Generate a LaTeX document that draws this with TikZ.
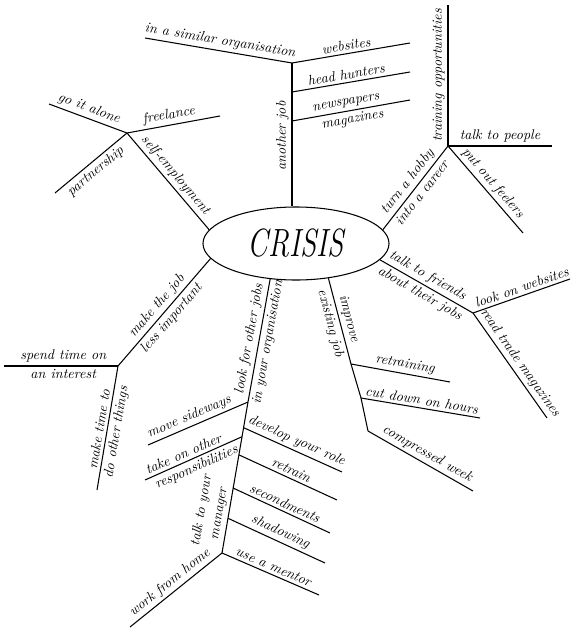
\documentclass[tikz,border=0pt]{standalone}
\usepackage{tikz}
\usetikzlibrary{shapes.geometric, calc}

\begin{document}
\begin{tikzpicture}[
  x=0.025cm, y=-0.025cm,
  line width=0.75pt,
  hub/.style={ellipse, draw, minimum width=4.65cm, minimum height=1.825cm,
              inner sep=0pt, font=\fontsize{28}{30}\selectfont\itshape},
  lbl/.style={font=\fontsize{10}{12.5}\selectfont\itshape, sloped, inner sep=2pt},
]
  \useasboundingbox (0,0) rectangle (580,632);

  \node[hub] (crisis) at (296,243.5) {\scalebox{0.75}[1]{CRISIS}};

  % another job
  \coordinate (aj)  at (292,63);
  \coordinate (sim) at (145,38);
  \coordinate (web) at (410,43);
  \coordinate (hh0) at (292,92);
  \coordinate (hh)  at (410,72);
  \coordinate (np0) at (292,121);
  \coordinate (np)  at (410,100);

  \draw (crisis.north -| aj) -- node[lbl, above, pos=0.49]{another job} (aj);
  \draw (sim) -- node[lbl, above]{in a similar organisation} (aj);
  \draw (aj) -- node[lbl, above, pos=0.47]{websites} (web);
  \draw (hh0) -- node[lbl, above, pos=0.47]{head hunters} (hh);
  \draw (np0) -- node[lbl, above, pos=0.47]{newspapers}
    node[lbl, below, pos=0.5]{magazines} (np);

  % self-employment
  \coordinate (se)    at (127,133);
  \coordinate (alone) at (49,104);
  \coordinate (free)  at (220,116);
  \coordinate (part)  at (55,193);

  \draw (se) -- node[lbl, above]{self-employment} (crisis.171);
  \draw (alone) -- node[lbl, above, pos=0.47]{go it alone} (se);
  \draw (se) -- node[lbl, above, pos=0.47]{freelance} (free);
  \draw (part) -- node[lbl, below, pos=0.48]{partnership} (se);

  % hobby
  \coordinate (hob)    at (448,146);
  \coordinate (train)  at (448,5);
  \coordinate (people) at (552,146);
  \coordinate (feel)   at (523,233);

  \draw (crisis.9) -- node[lbl, above]{turn a hobby}
    node[lbl, below]{into a career} (hob);
  \draw (hob) -- node[lbl, above]{training opportunities} (train);
  \draw (hob) -- node[lbl, above]{talk to people} (people);
  \draw (hob) -- node[lbl, above]{put out feelers} (feel);

  % friends
  \coordinate (fr)    at (473,313);
  \coordinate (lweb)  at (570,279);
  \coordinate (trade) at (547,418);

  \draw (crisis.349) -- node[lbl, above, pos=0.46]{talk to friends}
    node[lbl, below, pos=0.48]{about their jobs} (fr);
  \draw (fr) -- node[lbl, above, pos=0.53]{look on websites} (lweb);
  \draw (fr) -- node[lbl, above, pos=0.53]{read trade magazines} (trade);

  % existing job
  \coordinate (imp1)  at (351,364);
  \coordinate (imp2)  at (361,398);
  \coordinate (imp3)  at (368,431);
  \coordinate (retr)  at (450,382);
  \coordinate (hours) at (480,418);
  \coordinate (week)  at (473,491);

  \draw (crisis.313) -- node[lbl, above]{improve}
    node[lbl, below]{existing job} (imp1) -- (imp2) -- (imp3);
  \draw (imp1) -- node[lbl, above, pos=0.53]{retraining} (retr);
  \draw (imp2) -- node[lbl, above]{cut down on hours} (hours);
  \draw (imp3) -- node[lbl, above, pos=0.52]{compressed week} (week);

  % other jobs in the organisation
  \coordinate (lf1)  at (248,402);
  \coordinate (lf2)  at (222,553);
  \coordinate (side) at (148,445);
  \coordinate (resp) at (145,480);
  \coordinate (home) at (130,627);
  \coordinate (tk0)  at ($(lf1)!0.23!(lf2)$);
  \coordinate (dev)  at (342,472);
  \coordinate (rtn)  at (337,500);
  \coordinate (sec)  at (330,533);
  \coordinate (shad) at (325,563);
  \coordinate (ment) at (319,595);

  \draw (lf2) -- node[lbl, above, align=center, pos=0.25]{talk to your\\manager} (lf1)
    -- node[lbl, above]{look for other jobs}
       node[lbl, below]{in your organisation} (crisis.234);
  \draw (side) -- node[lbl, above, pos=0.45]{move sideways} (lf1);
  \draw (resp) -- node[lbl, above, pos=0.43]{take on other}
    node[lbl, below, pos=0.49]{responsibilities} (tk0);
  \draw (home) -- node[lbl, above]{work from home} (lf2);

  \foreach \t/\tip/\txt in {0.17/dev/develop your role, 0.35/rtn/retrain,
      0.57/sec/secondments, 0.77/shad/shadowing, 1/ment/use a mentor}
    \draw ($(lf1)!\t!(lf2)$) -- node[lbl, above]{\txt} (\tip);

  % less important job
  \coordinate (mj)    at (118,366);
  \coordinate (spend) at (4,366);
  \coordinate (mt)    at (97,490);

  \draw (mj) -- node[lbl, above]{make the job}
    node[lbl, below]{less important} (crisis.190);
  \draw (spend) -- node[lbl, above, pos=0.52]{spend time on}
    node[lbl, below, pos=0.52]{an interest} (mj);
  \draw (mt) -- node[lbl, above, pos=0.48]{make time to}
    node[lbl, below, pos=0.48]{do other things} (mj);

\end{tikzpicture}
\end{document}
